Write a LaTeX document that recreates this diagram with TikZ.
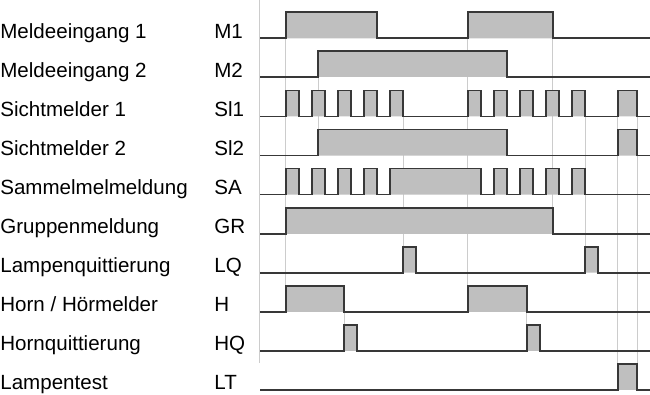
\documentclass[tikz,border=0pt]{standalone}
\usepackage{fontspec}
\setmainfont{Liberation Sans}
\usepackage{tikz}

\begin{document}
\begin{tikzpicture}[x=0.02cm, y=-0.02cm,
    sigline/.style={draw=black!78, line width=1pt, line join=miter},
    sigfill/.style={fill=black!25},
    guide/.style={draw=black!20, line width=0.5pt},
    lbl/.style={anchor=base west, inner sep=0pt, font=\fontsize{11.7}{14}\selectfont}]
      \useasboundingbox (0, 0) rectangle (650, 395);

      % guide lines
      \draw[guide] (259, 0) -- (259, 363);
      \foreach \x/\ya/\yb in {285.7/12.3/285.8, 318.3/51.4/155.5, 344.3/285.8/350.9, 403/90.4/272.7,
                              467.7/12.3/285.8, 526.7/285.8/350.9, 552.7/12.3/233.7, 585/90.4/272.7,
                              617.7/90.4/389.9, 637.3/90.4/389.9} {
        \draw[guide] (\x, \ya) -- (\x, \yb);
      }

      % signals: row / name / short name / pulses
      \foreach \i/\name/\abbr/\pulses in {
          0/Meldeeingang 1/M1/{285.7/376.7, 467.7/552.7},
          1/Meldeeingang 2/M2/{318.3/507.3},
          2/Sichtmelder 1/Sl1/{285.7/299, 311.7/325, 337.7/350.7, 363.7/376.7, 389.7/403, 467.7/481, 493.7/507.3, 519.7/533, 545.7/559, 571.7/585, 617.7/637.3},
          3/Sichtmelder 2/Sl2/{318.3/507.3, 617.7/637.3},
          4/Sammelmelmeldung/SA/{285.7/299, 311.7/325, 337.7/350.7, 363.7/376.7, 389.7/481, 493.7/507.3, 519.7/533, 545.7/559, 571.7/585},
          5/Gruppenmeldung/GR/{285.7/552.7},
          6/Lampenquittierung/LQ/{403/416, 585/598.3},
          7/{Horn / Hörmelder}/H/{285.7/344.3, 467.7/526.7},
          8/Hornquittierung/HQ/{344.3/357.3, 526.7/539.7},
          9/Lampentest/LT/{617.7/637.3}} {
        \pgfmathsetmacro{\base}{38.3 + 39.07*\i}
        \pgfmathsetmacro{\high}{\base - 26}
        \path (0, \base) node[lbl] (name-\i) {\name};
        \path (214, \base) node[lbl] (abbr-\i) {\abbr};
        \fill[sigfill] \foreach \a/\c in \pulses { (\a, \base) rectangle (\c, \high) };
        \draw[sigline] (260, \base) \foreach \a/\c in \pulses { -- (\a, \base) -- (\a, \high) -- (\c, \high) -- (\c, \base) } -- (650, \base);
      }
    \end{tikzpicture}
\end{document}
